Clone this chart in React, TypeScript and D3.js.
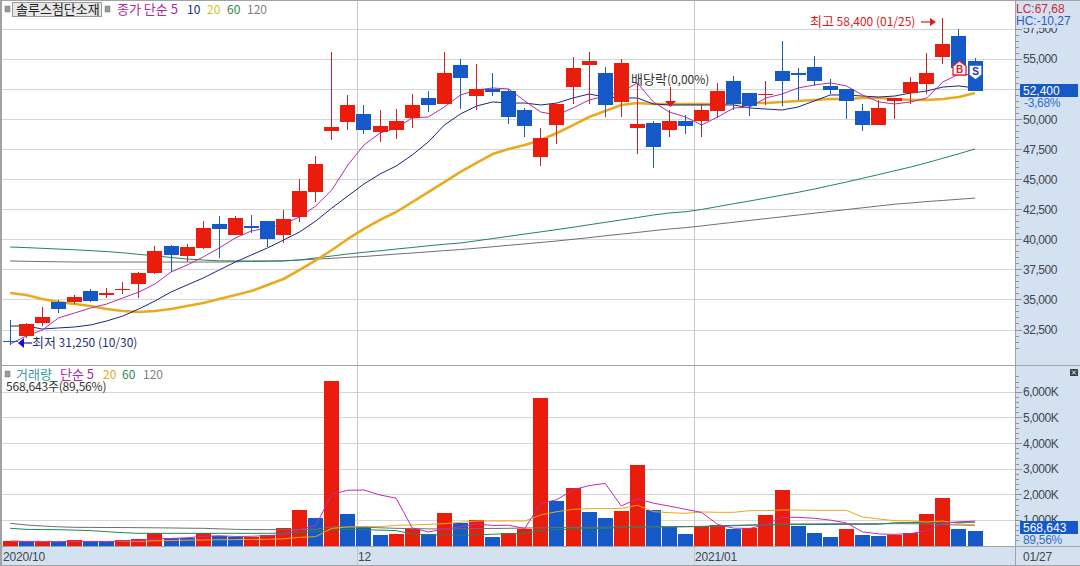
import React from "react";
import * as d3 from "d3";

const opens = [31550,32000,33100,34850,34850,35750,35400,35850,36300,37250,39500,38650,39300,41300,40400,41150,41550,40400,41900,43950,49050,49800,50450,48950,49150,50150,51800,51300,54550,51950,52550,52350,50800,46900,49550,52700,54550,53850,51450,49300,49700,49150,49900,49900,50700,53200,52200,52100,54050,53850,54350,52800,52550,50700,49550,51550,52200,52950,55200,56950,54850];
const highs = [33350,33100,34400,35000,35400,35900,36000,36500,37300,39500,39550,39650,41550,42000,42000,42050,41600,42500,45050,46950,55600,52050,51200,50800,50900,52100,52350,55600,55050,54600,53850,52550,50950,49300,51300,55200,55600,54350,55050,53050,49900,50800,50400,51300,53050,53600,52200,53200,56550,54300,55300,53350,52550,51300,51600,51800,53550,55550,58400,57550,55100];
const lows = [31250,31850,32850,33900,34650,34850,35150,35500,35150,37150,37300,38150,39250,38500,40400,40550,39400,39750,41500,43150,48300,49150,48800,48150,48400,49300,50600,51300,50850,50800,51950,49650,48550,46150,47950,51300,51300,50200,50200,47150,45950,48550,48800,48550,50150,50800,50300,51200,51100,51600,52800,52100,50050,49050,49550,50050,51300,52100,54600,54300,52400];
const closes = [31500,33000,33600,34250,35250,34900,35600,35900,37250,39050,38750,39400,41000,40900,41800,40950,40050,41750,44050,46300,49400,51200,49150,49450,49900,51200,51200,53850,53450,52550,52300,50200,49450,48450,51300,54300,54850,51200,54700,49650,47700,49900,49450,50800,52350,51300,51100,52150,53200,53700,53200,52450,51550,49550,50950,51800,53100,53850,56300,54300,52400];

const ma5 = [31340,32000,32500,33500,33910,34330,34660,35160,35660,36320,37320,37900,38570,39320,40150,40730,40980,41310,41900,42810,44140,46220,47880,48880,49290,50130,50210,51040,52040,52450,52620,52540,51540,50620,50380,50960,51620,51950,52290,53040,51460,50620,50210,49540,50210,50960,51040,51790,52120,52620,52870,53040,52790,52040,51460,51290,51460,51790,53120,53780,53700];
const ma10 = [32830,32830,32580,32670,32750,32920,33250,33660,34250,34910,35660,36240,36820,37490,38150,38740,39320,39980,40650,41560,42640,43640,44640,45470,46130,47050,48130,49540,50460,51120,51460,51370,51370,51210,51370,51790,52120,51870,51790,51790,51290,51210,51210,51210,51210,51210,50960,50870,50790,51040,51540,52040,52040,51950,51870,51950,52200,52370,52700,52790,52620];
const ma20 = [35580,35410,35080,34830,34660,34500,34250,34080,34000,34080,34250,34500,34740,35080,35410,35740,36240,36740,37490,38280,39150,40070,40900,41650,42310,43140,43970,44800,45640,46400,47130,47550,47880,48300,48880,49540,50210,50710,51210,51370,51290,51290,51290,51290,51290,51370,51370,51370,51460,51540,51620,51700,51700,51790,51790,51700,51620,51620,51700,51870,52200];
const ma60 = [39400,39350,39290,39230,39170,39100,39020,38920,38790,38670,38530,38400,38320,38250,38240,38240,38240,38250,38320,38490,38650,38820,38960,39090,39230,39360,39500,39630,39730,39920,40100,40290,40480,40660,40850,41040,41250,41450,41650,41850,42060,42230,42330,42520,42760,43000,43230,43470,43710,43950,44220,44510,44800,45110,45420,45740,46050,46400,46780,47150,47550];
const ma120 = [38240,38210,38190,38170,38150,38150,38150,38150,38150,38150,38150,38150,38150,38150,38170,38190,38210,38240,38320,38390,38460,38540,38610,38710,38810,38900,39000,39100,39190,39300,39420,39540,39660,39780,39900,40040,40180,40330,40470,40610,40760,40900,41010,41150,41310,41460,41610,41760,41910,42060,42210,42360,42510,42660,42810,42960,43060,43180,43270,43370,43470];

const volumes = [195,156,156,170,220,156,170,220,273,495,312,312,495,390,352,352,430,690,1406,1094,6445,1250,742,430,469,651,456,1289,898,1016,352,495,664,5781,1758,2266,1328,1094,1367,3164,1406,755,469,755,820,677,716,1211,2187,794,508,352,664,430,404,417,495,1250,1875,664,569];
const volumeRising = [1,0,1,0,1,0,0,1,1,1,0,0,1,0,0,1,1,1,1,0,1,0,0,0,1,1,0,1,0,1,0,1,1,1,0,1,0,0,1,1,0,0,0,1,1,0,1,1,1,0,0,0,1,0,0,1,1,1,1,0,0];
const vma5 = [190,175,170,170,180,176,172,189,208,282,294,322,377,401,372,380,404,443,646,794,2013,2177,2187,1992,1867,708,550,659,753,862,802,810,685,1662,1810,2193,2359,2445,1563,1844,1672,1557,1432,1310,841,695,687,836,1122,1117,1083,1010,901,550,472,453,482,599,888,940,971];
const vma20 = [190,185,180,178,178,178,178,180,185,205,215,225,235,245,250,255,260,280,338,365,690,742,755,755,807,820,846,872,924,976,976,976,976,1211,1341,1432,1458,1458,1471,1588,1341,1302,1276,1328,1315,1315,1380,1380,1406,1406,1393,1393,1393,1133,1055,990,976,938,976,872,820];
const vma60 = [690,650,640,638,620,600,560,520,495,495,495,495,495,495,495,495,495,505,520,560,625,650,640,620,600,470,440,430,430,430,460,480,495,600,640,664,680,690,720,742,742,742,755,768,790,805,820,825,830,835,838,840,842,845,846,910,915,918,920,922,925];
const vma120 = [885,820,780,750,730,725,722,720,716,710,705,695,690,670,650,640,640,640,640,650,755,750,740,710,690,680,670,664,670,680,685,690,700,710,720,725,730,735,740,745,750,755,755,755,770,790,810,830,860,862,865,868,870,872,872,872,870,860,840,820,807];

const priceTicks = [32500,35000,37500,40000,42500,45000,47500,50000,52500,55000,57500];
const volumeTicks = [1000,2000,3000,4000,5000,6000];
const dateLabels = [{ text: "2020/10", x: 3, grid: false }, { text: "12", x: 358, grid: true, at: 357 }, { text: "2021/01", x: 695, grid: true, at: 694 }];
const lastDate = "01/27";

const fmt = d3.format(",");
const sans = "'Liberation Sans', Arial, sans-serif";
const kr = "'Noto Sans CJK KR', 'Noto Sans', sans-serif";
const RED = "#ea1d0c", BLUE = "#1559c8", WICK_RED = "#c8222c", WICK_BLUE = "#1d5cae";
const PANEL = "#d4e1f0", GRID = "#d6d6d6", EDGE = "#a2a2a2";
const AXIS_X = 1015;

const x = d3.scaleLinear().domain([0, 60]).range([10.2, 975]);
const yP = d3.scaleLinear().domain([32500, 57500]).range([330, 29.3]);
const yV = d3.scaleLinear().domain([0, 6000]).range([546, 392.3]);

const priceLine = d3.line<number>().x((_, i) => x(i)).y((d) => yP(d));
const volLine = d3.line<number>().x((_, i) => x(i)).y((d) => yV(d));

const minorPrice = d3.range(31000, 59000, 500);
const minorVol = d3.range(200, 6800, 200);

// Hangul runs are set a point larger than digits, as in the reference.
function Mixed({ text }: { text: string }) {
  return (
    <>
      {text.split(/([가-힣]+)/).filter(Boolean).map((part, i) => (
        <tspan key={i} fontSize={/[가-힣]/.test(part) ? 13 : 12}>{part}</tspan>
      ))}
    </>
  );
}

export default function App() {
  return (
    <svg width={1080} height={566} viewBox="0 0 1080 566"
      style={{ position: "fixed", left: 0, top: 0, display: "block", background: "#fff" }}>
      {/* panels */}
      <rect x={AXIS_X} y={0} width={65} height={566} fill={PANEL} />
      <rect x={0} y={547} width={1080} height={19} fill={PANEL} />

      {/* grid */}
      <g shapeRendering="crispEdges" stroke={GRID}>
        {priceTicks.map((t) => <line key={t} x1={2} x2={AXIS_X} y1={Math.floor(yP(t)) + 0.5} y2={Math.floor(yP(t)) + 0.5} />)}
        {volumeTicks.map((t) => <line key={t} x1={2} x2={AXIS_X} y1={Math.floor(yV(t)) + 0.5} y2={Math.floor(yV(t)) + 0.5} />)}
        {dateLabels.filter((d) => d.grid).map((d) => (
          <line key={d.text} x1={d.at! + 0.5} x2={d.at! + 0.5} y1={1} y2={566} stroke="#c4c8cc" />
        ))}
      </g>

      {/* moving averages of price */}
      <g fill="none" strokeLinejoin="round">
        <path d={priceLine(ma120)!} stroke="#6f6f6f" strokeWidth={1} />
        <path d={priceLine(ma60)!} stroke="#21855a" strokeWidth={1} />
        <path d={priceLine(ma20)!} stroke="#e8aa1e" strokeWidth={2.6} />
        <path d={priceLine(ma10)!} stroke="#1a2680" strokeWidth={1} />
        <path d={priceLine(ma5)!} stroke="#b32ea6" strokeWidth={1} />
      </g>

      {/* candles */}
      <g shapeRendering="crispEdges">
        {closes.map((c, i) => {
          const o = opens[i];
          const up = c >= o;
          const cx = Math.floor(x(i));
          const top = Math.round(yP(Math.max(o, c)));
          const bot = Math.round(yP(Math.min(o, c)));
          const hi = Math.round(yP(highs[i]));
          const lo = Math.round(yP(lows[i]));
          return (
            <g key={i}>
              <rect x={cx} y={hi} width={1} height={Math.max(1, lo - hi)} fill={up ? WICK_RED : WICK_BLUE} />
              <rect x={cx - 7} y={top} width={15} height={Math.max(1, bot - top)} fill={up ? RED : BLUE} />
            </g>
          );
        })}
      </g>

      {/* volume bars */}
      <g shapeRendering="crispEdges">
        {volumes.map((v, i) => (
          <rect key={i} x={Math.floor(x(i)) - 7} y={Math.round(yV(v))} width={15}
            height={546 - Math.round(yV(v))} fill={volumeRising[i] ? RED : BLUE} />
        ))}
      </g>
      <g fill="none" strokeLinejoin="round" strokeWidth={1}>
        <path d={volLine(vma120)!} stroke="#6f6f6f" />
        <path d={volLine(vma60)!} stroke="#21855a" />
        <path d={volLine(vma20)!} stroke="#eaa81c" />
        <path d={volLine(vma5)!} stroke="#c22bb0" />
      </g>

      {/* frame */}
      <g shapeRendering="crispEdges">
        <rect x={0} y={0} width={1080} height={1} fill={EDGE} />
        <rect x={0} y={0} width={2} height={566} fill={EDGE} />
        <rect x={0} y={365} width={1080} height={1} fill={EDGE} />
        <rect x={0} y={546} width={1080} height={1} fill={EDGE} />
        <rect x={0} y={565} width={1080} height={1} fill={EDGE} />
        <rect x={AXIS_X} y={0} width={1} height={566} fill={EDGE} />
      </g>

      {/* axis ticks */}
      <g shapeRendering="crispEdges" stroke="#8d96a0">
        {minorPrice.map((t) => <line key={t} x1={AXIS_X} x2={AXIS_X + 4} y1={Math.floor(yP(t)) + 0.5} y2={Math.floor(yP(t)) + 0.5} />)}
        {priceTicks.map((t) => <line key={t} x1={AXIS_X} x2={AXIS_X + 7} y1={Math.floor(yP(t)) + 0.5} y2={Math.floor(yP(t)) + 0.5} />)}
        {minorVol.map((t) => <line key={t} x1={AXIS_X} x2={AXIS_X + 4} y1={Math.floor(yV(t)) + 0.5} y2={Math.floor(yV(t)) + 0.5} />)}
        {volumeTicks.map((t) => <line key={t} x1={AXIS_X} x2={AXIS_X + 7} y1={Math.floor(yV(t)) + 0.5} y2={Math.floor(yV(t)) + 0.5} />)}
      </g>
      <g fontFamily={sans} fontSize={12} fill="#3f4650" letterSpacing={-0.45}>
        {priceTicks.map((t) => <text key={t} x={1023} y={yP(t) + 4}>{fmt(t)}</text>)}
        {volumeTicks.map((t) => <text key={t} x={1023} y={yV(t) + 4}>{fmt(t)}K</text>)}
      </g>
      <g fontFamily={sans} fontSize={12} fill="#3f4650" letterSpacing={-0.2}>
        {dateLabels.map((d) => <text key={d.text} x={d.x} y={561}>{d.text}</text>)}
        <text x={1023} y={561}>{lastDate}</text>
      </g>

      {/* right overlays */}
      <rect x={1016} y={1} width={64} height={27} fill={PANEL} />
      <text x={1016} y={13} fontFamily={sans} fontSize={12} fill="#cc2a34">LC:67,68</text>
      <text x={1016} y={25} fontFamily={sans} fontSize={12} fill="#2a5cc0">HC:-10,27</text>
      <rect x={1020} y={84} width={58} height={13} fill={BLUE} />
      <text x={1023} y={95} fontFamily={sans} fontSize={12} fill="#fff">52,400</text>
      <text x={1024} y={107} fontFamily={sans} fontSize={12} fill="#2e6fd2" letterSpacing={-0.3}>-3,68%</text>
      <rect x={1020} y={521} width={58} height={13} fill={BLUE} />
      <text x={1023} y={532} fontFamily={sans} fontSize={12} fill="#fff">568,643</text>
      <text x={1023} y={544} fontFamily={sans} fontSize={12} fill="#2e6fd2" letterSpacing={-0.3}>89,56%</text>
      <rect x={1070} y={369} width={8} height={7} fill="#3a3f46" />
      <path d="M1072 370.5 L1076 374.5 M1076 370.5 L1072 374.5" stroke="#fff" strokeWidth={1} />

      {/* header legend */}
      <rect x={5} y={6} width={5} height={6} fill="#999" stroke="#777" strokeWidth={0.5} />
      <rect x={12.5} y={2.5} width={89} height={14} fill="#e8e8e8" stroke="#9a9a9a" />
      <text x={16} y={14} fontFamily={kr} fontSize={13} fill="#222">솔루스첨단소재</text>
      <rect x={105} y={6} width={5} height={6} fill="#999" stroke="#777" strokeWidth={0.5} />
      <g fontFamily={kr} fontSize={13}>
        <text x={117} y={14} fill="#b3269f">종가 단순 5</text>
        <text x={187} y={14} fill="#1a2680" fontSize={12}>10</text>
        <text x={207} y={14} fill="#d8c422" fontSize={12}>20</text>
        <text x={227} y={14} fill="#2a8a4c" fontSize={12}>60</text>
        <text x={247} y={14} fill="#808080" fontSize={12}>120</text>
      </g>

      {/* volume legend */}
      <rect x={5} y={371} width={5} height={6} fill="#999" stroke="#777" strokeWidth={0.5} />
      <g fontFamily={kr} fontSize={13}>
        <text x={16} y={379} fill="#3b9a9c">거래량</text>
        <text x={60} y={379} fill="#b3269f">단순 5</text>
        <text x={103} y={379} fill="#e0aa20" fontSize={12}>20</text>
        <text x={122} y={379} fill="#2a8a4c" fontSize={12}>60</text>
        <text x={143} y={379} fill="#808080" fontSize={12}>120</text>
        <text x={6} y={391} fill="#333" fontSize={12} letterSpacing={-0.2}>568,643주(89,56%)</text>
      </g>

      {/* annotations */}
      <text x={810} y={26} fontFamily={kr} fill="#d81c1c"><Mixed text="최고 58,400 (01/25)" /></text>
      <path d="M921 22 H931" stroke="#e01818" strokeWidth={1.2} />
      <path d="M930 18 L936 22 L930 26 Z" fill="#e01818" />
      <text x={32} y={347} fontFamily={kr} fill="#1e2f80"><Mixed text="최저 31,250 (10/30)" /></text>
      <path d="M24 343 H32" stroke="#1020c0" strokeWidth={1.2} />
      <path d="M24 338 L18 343 L24 348 Z" fill="#1010d8" />
      <text x={631} y={84} fontFamily={kr} fill="#333"><Mixed text="배당락(0,00%)" /></text>
      <path d="M670.5 87 V101" stroke="#e01818" strokeWidth={1} />
      <path d="M665 101 L676 101 L670.5 107 Z" fill="#e01818" />

      {/* buy and sell signs */}
      <path d="M959.5 61 L966 66 V75 H953 V66 Z" fill="#fff" stroke="#e0202c" strokeWidth={1.3} />
      <text x={959.5} y={73} textAnchor="middle" fontFamily={sans} fontWeight="bold" fontSize={10} fill="#e0202c">B</text>
      <path d="M969 65 H982 V75 L975.5 80 L969 75 Z" fill="#fff" stroke="#1559c8" strokeWidth={1.3} />
      <text x={975.5} y={75} textAnchor="middle" fontFamily={sans} fontWeight="bold" fontSize={10} fill="#2030c0">S</text>
    </svg>
  );
}
